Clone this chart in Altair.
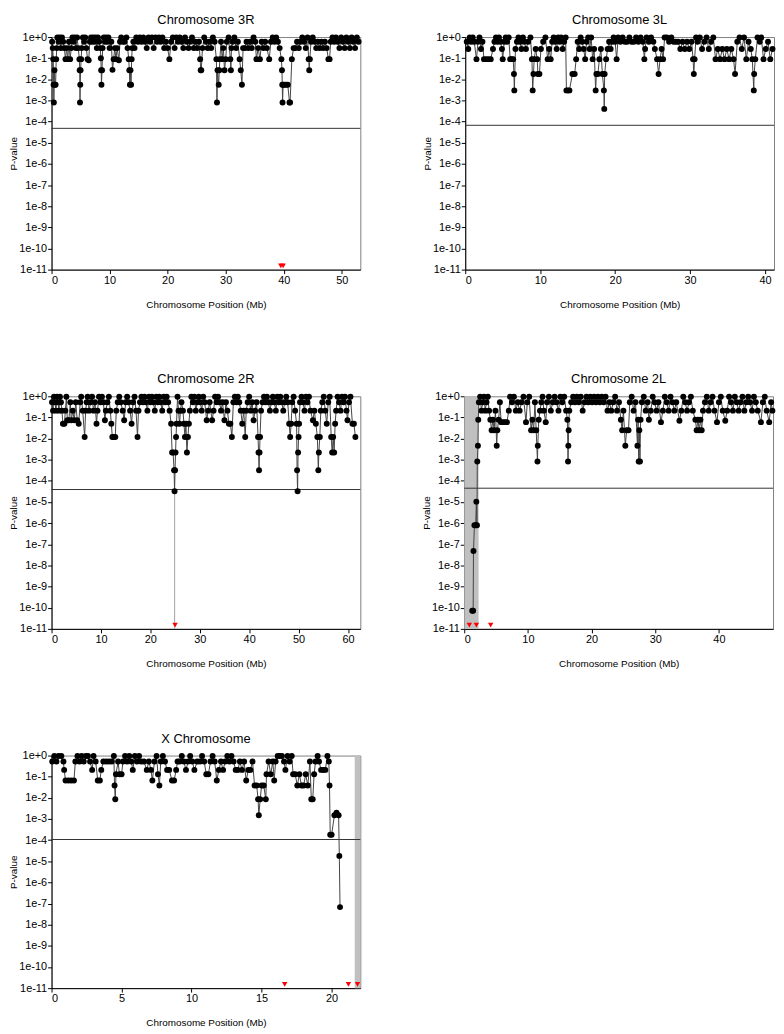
import altair as alt
import pandas as pd

FONT = "Liberation Sans"

# ---------------- data (position in Mb, p-value) ----------------
chr3R = [(0.1,0.6),(0.2,0.3),(0.3,0.09),(0.35,0.0055),(0.4,0.0008),(0.5,0.027),(0.6,0.0055),(0.7,0.0055),(0.8,0.09),(0.9,0.3),
(1.0,0.95),(1.2,0.6),(1.4,0.95),(1.6,0.3),(1.8,0.95),(2.0,0.6),(2.2,0.3),(2.4,0.09),(2.6,0.3),(2.8,0.09),(3.0,0.6),(3.2,0.09),
(3.4,0.3),(3.6,0.95),(3.8,0.6),(4.0,0.95),(4.2,0.3),(4.4,0.95),(4.6,0.3),(4.8,0.09),(4.85,0.027),(4.9,0.0008),(4.95,0.0055),
(5.0,0.027),(5.1,0.09),(5.2,0.3),(5.4,0.95),(5.6,0.6),(5.8,0.95),(6.0,0.3),(6.2,0.09),(6.4,0.08),(6.6,0.6),(6.8,0.95),(7.0,0.6),
(7.2,0.95),(7.4,0.6),(7.6,0.95),(7.8,0.3),(8.0,0.95),(8.2,0.6),(8.4,0.3),(8.5,0.1),(8.55,0.027),(8.6,0.0055),(8.7,0.027),(8.8,0.3),
(9.0,0.95),(9.2,0.6),(9.4,0.95),(9.6,0.6),(9.8,0.95),(10.0,0.3),(10.3,0.6),(10.5,0.028),(10.7,0.09),(10.9,0.3),(11.1,0.09),
(11.3,0.3),(11.6,0.08),(11.8,0.6),(12.0,0.95),(12.3,0.6),(12.6,0.6),(12.9,0.95),(13.1,0.3),(13.3,0.09),(13.4,0.027),(13.5,0.0055),
(13.6,0.027),(13.7,0.0055),(13.8,0.09),(13.9,0.3),(14.1,0.6),(14.3,0.3),(14.6,0.95),(14.9,0.6),(15.2,0.95),(15.5,0.6),(15.8,0.95),
(16.1,0.6),(16.4,0.3),(16.7,0.95),(17.0,0.6),(17.3,0.95),(17.6,0.3),(17.9,0.95),(18.2,0.6),(18.5,0.95),(18.8,0.6),(19.1,0.95),
(19.4,0.3),(19.7,0.6),(20.0,0.3),(20.3,0.09),(20.6,0.6),(20.9,0.95),(21.2,0.3),(21.5,0.95),(21.8,0.6),(22.1,0.95),(22.4,0.6),
(22.7,0.3),(23.0,0.95),(23.3,0.6),(23.6,0.3),(23.9,0.6),(24.2,0.95),(24.5,0.3),(24.8,0.6),(25.1,0.3),(25.4,0.6),(25.6,0.09),
(25.7,0.027),(25.8,0.027),(26.0,0.3),(26.3,0.95),(26.6,0.6),(26.9,0.3),(27.2,0.6),(27.5,0.3),(27.8,0.95),(28.1,0.6),(28.4,0.09),
(28.5,0.0008),(28.6,0.027),(28.8,0.0055),(28.9,0.027),(29.0,0.09),(29.2,0.6),(29.4,0.09),(29.6,0.3),(29.8,0.027),(30.0,0.09),
(30.2,0.6),(30.5,0.95),(30.8,0.09),(30.9,0.027),(31.0,0.3),(31.2,0.6),(31.5,0.95),(31.8,0.3),(32.1,0.6),(32.4,0.09),(32.6,0.027),
(32.8,0.0055),(33.0,0.3),(33.3,0.3),(33.6,0.6),(33.9,0.3),(34.2,0.6),(34.5,0.3),(34.8,0.95),(35.1,0.6),(35.3,0.09),(35.6,0.3),
(35.9,0.09),(36.2,0.6),(36.5,0.3),(36.8,0.6),(37.1,0.3),(37.5,0.09),(37.8,0.6),(38.1,0.95),(38.4,0.6),(38.7,0.95),(39.0,0.6),
(39.3,0.3),(39.6,0.09),(39.7,0.027),(39.75,0.0055),(39.8,0.0008),(39.9,0.0055),(40.1,0.0055),(40.4,0.0055),(40.7,0.0055),
(41.0,0.0008),(41.1,0.0008),(41.4,0.09),(41.7,0.3),(42.0,0.3),(42.3,0.6),(42.6,0.3),(42.9,0.6),(43.2,0.95),(43.5,0.6),(43.8,0.3),
(44.1,0.95),(44.3,0.09),(44.4,0.027),(44.5,0.09),(44.7,0.6),(45.0,0.95),(45.3,0.6),(45.6,0.3),(45.9,0.6),(46.2,0.3),(46.5,0.6),
(46.8,0.3),(47.1,0.6),(47.4,0.3),(47.7,0.09),(47.9,0.09),(48.1,0.6),(48.4,0.95),(48.7,0.6),(49.0,0.95),(49.3,0.6),(49.6,0.3),
(49.9,0.95),(50.2,0.6),(50.5,0.3),(50.8,0.95),(51.1,0.6),(51.4,0.3),(51.7,0.95),(52.0,0.6),(52.3,0.3),(52.6,0.95),(52.9,0.6)]

chr3L = [(0.2,0.6),(0.4,0.27),(0.6,0.95),(0.8,0.6),(1.0,0.95),(1.2,0.6),(1.5,0.09),(1.7,0.6),(1.9,0.95),(2.1,0.27),(2.3,0.6),
(2.5,0.09),(2.8,0.09),(3.1,0.09),(3.4,0.09),(3.7,0.27),(3.9,0.6),(4.1,0.95),(4.3,0.6),(4.5,0.95),(4.7,0.6),(4.9,0.27),(5.0,0.09),
(5.2,0.6),(5.4,0.95),(5.6,0.6),(5.8,0.95),(6.0,0.09),(6.2,0.09),(6.4,0.09),(6.5,0.018),(6.55,0.003),(6.7,0.27),(6.9,0.6),(7.1,0.95),
(7.3,0.6),(7.5,0.27),(7.7,0.95),(7.9,0.6),(8.1,0.27),(8.4,0.6),(8.7,0.95),(8.9,0.09),(9.0,0.003),(9.1,0.018),(9.2,0.09),(9.4,0.27),
(9.6,0.09),(9.7,0.018),(9.9,0.018),(10.1,0.27),(10.4,0.6),(10.7,0.95),(11.0,0.09),(11.2,0.27),(11.4,0.09),(11.6,0.6),(11.8,0.95),
(12.0,0.6),(12.2,0.27),(12.4,0.95),(12.6,0.6),(12.8,0.95),(13.0,0.27),(13.2,0.6),(13.4,0.95),(13.5,0.003),(13.7,0.003),(13.9,0.003),
(14.3,0.018),(14.6,0.018),(14.8,0.09),(15.0,0.6),(15.2,0.27),(15.4,0.95),(15.6,0.6),(15.8,0.27),(16.0,0.09),(16.2,0.6),(16.4,0.95),
(16.6,0.27),(16.8,0.95),(17.0,0.09),(17.2,0.27),(17.4,0.003),(17.5,0.018),(17.7,0.018),(17.9,0.09),(18.1,0.27),(18.3,0.018),
(18.5,0.003),(18.55,0.0004),(18.6,0.018),(18.8,0.09),(19.0,0.27),(19.2,0.6),(19.4,0.27),(19.6,0.6),(19.8,0.95),(20.0,0.6),
(20.2,0.09),(20.4,0.95),(20.7,0.6),(21.0,0.95),(21.3,0.6),(21.6,0.6),(21.9,0.95),(22.2,0.6),(22.5,0.6),(22.8,0.95),(23.1,0.6),
(23.4,0.95),(23.7,0.6),(23.9,0.09),(24.0,0.27),(24.2,0.95),(24.5,0.6),(24.8,0.95),(25.1,0.6),(25.3,0.27),(25.6,0.09),(25.8,0.018),
(26.0,0.09),(26.2,0.27),(26.4,0.09),(26.6,0.95),(26.9,0.95),(27.2,0.6),(27.5,0.95),(27.8,0.6),(28.1,0.6),(28.4,0.6),(28.7,0.27),
(29.0,0.6),(29.3,0.27),(29.6,0.6),(29.9,0.27),(30.2,0.6),(30.4,0.09),(30.5,0.018),(30.6,0.09),(30.8,0.95),(31.0,0.6),(31.3,0.95),
(31.6,0.27),(31.9,0.6),(32.2,0.95),(32.5,0.27),(32.8,0.6),(33.1,0.95),(33.4,0.09),(33.7,0.27),(34.0,0.09),(34.3,0.27),(34.6,0.09),
(34.9,0.27),(35.2,0.09),(35.5,0.27),(35.8,0.09),(36.0,0.018),(36.3,0.6),(36.6,0.95),(36.9,0.27),(37.2,0.95),(37.5,0.09),(37.8,0.6),
(38.1,0.27),(38.3,0.09),(38.5,0.003),(38.55,0.018),(38.7,0.09),(39.0,0.95),(39.3,0.6),(39.5,0.95),(39.8,0.09),(40.1,0.27),(40.4,0.6),
(40.7,0.09),(41.0,0.27)]

chr2R = [(0.1,0.52),(0.3,0.21),(0.5,0.95),(0.7,0.52),(0.9,0.21),(1.1,0.95),(1.3,0.52),(1.5,0.21),(1.7,0.95),(1.9,0.52),(2.1,0.21),
(2.3,0.05),(2.6,0.05),(2.8,0.21),(3.0,0.95),(3.2,0.073),(3.5,0.073),(3.8,0.52),(4.0,0.073),(4.3,0.21),(4.6,0.073),(4.9,0.52),
(5.2,0.073),(5.5,0.05),(5.8,0.52),(6.0,0.95),(6.3,0.21),(6.7,0.012),(6.9,0.21),(7.1,0.52),(7.3,0.95),(7.6,0.21),(7.9,0.52),(8.2,0.95),
(8.5,0.21),(8.8,0.52),(9.1,0.05),(9.3,0.21),(9.6,0.95),(9.9,0.52),(10.2,0.95),(10.5,0.52),(10.8,0.073),(11.0,0.21),(11.3,0.52),
(11.6,0.95),(11.9,0.21),(12.1,0.05),(12.3,0.012),(12.6,0.012),(12.9,0.012),(13.1,0.21),(13.4,0.52),(13.7,0.95),(14.0,0.52),
(14.4,0.21),(14.7,0.073),(15.0,0.52),(15.3,0.95),(15.6,0.52),(15.9,0.21),(16.2,0.05),(16.5,0.52),(16.8,0.95),(17.1,0.21),(17.4,0.012),
(17.6,0.21),(17.9,0.52),(18.2,0.95),(18.5,0.52),(18.8,0.95),(19.1,0.52),(19.4,0.21),(19.7,0.95),(20.0,0.52),(20.3,0.95),(20.6,0.52),
(20.9,0.21),(21.2,0.95),(21.5,0.52),(21.8,0.95),(22.1,0.52),(22.4,0.21),(22.7,0.95),(23.0,0.52),(23.3,0.95),(23.6,0.52),(23.9,0.21),
(24.2,0.05),(24.4,0.0022),(24.6,0.0022),(24.8,0.00032),(24.9,3.2e-5),(25.0,0.00032),(25.1,0.0022),(25.2,0.012),(25.3,0.05),
(25.5,0.95),(25.7,0.21),(25.9,0.05),(26.1,0.21),(26.3,0.52),(26.6,0.21),(26.8,0.05),(27.0,0.012),(27.2,0.05),(27.4,0.0022),
(27.6,0.012),(27.8,0.05),(28.0,0.21),(28.3,0.95),(28.6,0.52),(28.9,0.95),(29.2,0.21),(29.5,0.52),(29.8,0.95),(30.1,0.52),(30.4,0.21),
(30.7,0.95),(31.0,0.52),(31.4,0.073),(31.7,0.21),(32.0,0.52),(32.5,0.073),(32.8,0.21),(33.1,0.95),(33.4,0.52),(33.7,0.95),(34.0,0.52),
(34.3,0.21),(34.6,0.52),(35.0,0.073),(35.3,0.52),(35.6,0.21),(35.9,0.05),(36.2,0.05),(36.5,0.012),(36.8,0.52),(37.1,0.95),(37.4,0.52),
(37.7,0.95),(38.0,0.52),(38.3,0.21),(38.6,0.05),(38.9,0.21),(39.2,0.012),(39.4,0.21),(39.7,0.52),(40.0,0.95),(40.3,0.21),(40.6,0.52),
(40.9,0.073),(41.2,0.21),(41.5,0.52),(41.8,0.012),(41.9,0.0022),(42.0,0.00032),(42.1,0.0022),(42.2,0.012),(42.4,0.21),(42.7,0.52),
(43.0,0.95),(43.3,0.52),(43.6,0.95),(43.9,0.52),(44.2,0.21),(44.5,0.52),(44.8,0.95),(45.1,0.52),(45.4,0.21),(45.7,0.95),(46.0,0.52),
(46.3,0.95),(46.6,0.52),(46.9,0.21),(47.2,0.52),(47.5,0.95),(47.8,0.52),(48.1,0.05),(48.3,0.012),(48.5,0.05),(48.7,0.52),(49.0,0.95),
(49.3,0.21),(49.6,0.05),(49.7,0.00032),(49.8,3.2e-5),(49.9,0.0022),(50.0,0.012),(50.1,0.05),(50.3,0.52),(50.6,0.95),(50.9,0.52),
(51.2,0.21),(51.5,0.95),(51.8,0.52),(52.1,0.95),(52.4,0.21),(52.9,0.073),(53.2,0.21),(53.5,0.05),(53.8,0.012),(54.0,0.00032),
(54.1,0.0022),(54.3,0.012),(54.5,0.21),(54.8,0.52),(55.1,0.95),(55.4,0.21),(55.7,0.05),(56.0,0.52),(56.3,0.95),(56.6,0.012),
(56.8,0.0022),(57.0,0.012),(57.2,0.0022),(57.4,0.05),(57.6,0.21),(57.9,0.95),(58.2,0.52),(58.5,0.21),(58.8,0.95),(59.1,0.52),
(59.4,0.95),(59.7,0.21),(59.9,0.073),(60.2,0.52),(60.5,0.95),(60.9,0.05),(61.2,0.05),(61.5,0.012)]

chr2L = [(1.25,7.2e-11),(1.4,7.2e-11),(1.45,4.8e-8),(1.6,8e-7),(1.8,8e-7),(1.9,1.04e-5),(2.0,8e-7),(2.05,0.00083),(2.15,0.0046),
(2.2,0.078),(2.3,0.52),(2.5,0.95),(2.7,0.21),(2.9,0.52),(3.1,0.95),(3.3,0.21),(3.5,0.52),(3.7,0.95),(3.9,0.21),(4.1,0.078),
(4.3,0.025),(4.5,0.078),(4.7,0.025),(4.9,0.21),(5.1,0.0046),(5.2,0.025),(5.4,0.078),(5.6,0.52),(5.8,0.06),(6.1,0.06),(6.4,0.06),
(6.7,0.06),(7.0,0.21),(7.2,0.95),(7.5,0.52),(7.8,0.95),(8.1,0.21),(8.4,0.52),(8.7,0.21),(9.0,0.52),(9.3,0.95),(9.7,0.06),(9.9,0.52),
(10.2,0.95),(10.5,0.025),(10.7,0.078),(10.9,0.025),(11.1,0.52),(11.3,0.025),(11.5,0.00083),(11.55,0.0046),(11.7,0.078),(11.9,0.21),
(12.1,0.52),(12.3,0.95),(12.5,0.21),(12.8,0.06),(13.0,0.52),(13.3,0.95),(13.6,0.21),(13.9,0.52),(14.2,0.95),(14.5,0.52),(14.8,0.21),
(15.1,0.95),(15.4,0.52),(15.7,0.95),(16.0,0.21),(16.2,0.078),(16.3,0.00083),(16.35,0.0046),(16.4,0.025),(16.5,0.21),(16.8,0.52),
(17.1,0.95),(17.4,0.52),(17.7,0.95),(18.0,0.52),(18.3,0.95),(18.6,0.21),(18.9,0.52),(19.2,0.95),(19.5,0.52),(19.8,0.95),(20.1,0.52),
(20.4,0.95),(20.7,0.52),(21.0,0.95),(21.3,0.52),(21.6,0.95),(21.9,0.52),(22.2,0.95),(22.5,0.21),(22.8,0.52),(23.1,0.21),(23.4,0.52),
(23.7,0.95),(24.0,0.21),(24.3,0.52),(24.6,0.078),(24.8,0.025),(25.0,0.21),(25.3,0.0046),(25.5,0.025),(25.8,0.025),(26.0,0.52),
(26.3,0.95),(26.6,0.21),(26.9,0.52),(27.2,0.0046),(27.3,0.078),(27.4,0.00083),(27.5,0.025),(27.6,0.00083),(27.7,0.078),(27.9,0.52),
(28.2,0.95),(28.5,0.21),(28.8,0.52),(29.0,0.078),(29.3,0.21),(29.6,0.95),(29.9,0.52),(30.2,0.21),(30.5,0.52),(30.9,0.06),(31.2,0.21),
(31.5,0.95),(31.8,0.52),(32.1,0.21),(32.4,0.95),(32.7,0.52),(33.0,0.21),(33.3,0.52),(33.8,0.07),(34.1,0.21),(34.4,0.95),(34.7,0.52),
(35.0,0.21),(35.3,0.52),(35.6,0.95),(35.9,0.21),(36.3,0.078),(36.5,0.025),(36.7,0.078),(36.9,0.025),(37.1,0.078),(37.3,0.025),
(37.5,0.21),(37.8,0.52),(38.1,0.95),(38.4,0.21),(38.7,0.52),(39.0,0.95),(39.3,0.21),(39.7,0.06),(40.0,0.52),(40.3,0.95),(40.6,0.21),
(41.0,0.07),(41.3,0.21),(41.6,0.95),(41.9,0.52),(42.2,0.21),(42.5,0.95),(42.8,0.52),(43.1,0.21),(43.4,0.52),(43.7,0.95),(44.0,0.21),
(44.3,0.52),(44.6,0.95),(44.9,0.52),(45.2,0.21),(45.5,0.95),(45.8,0.52),(46.1,0.21),(46.6,0.06),(46.9,0.52),(47.2,0.95),(47.5,0.21),
(47.9,0.06),(48.2,0.52),(48.4,0.21)]

chrX = [(0.05,0.52),(0.2,0.95),(0.35,0.52),(0.5,0.95),(0.7,0.95),(0.85,0.52),(0.9,0.21),(1.0,0.066),(1.2,0.066),(1.4,0.066),
(1.6,0.066),(1.7,0.52),(1.85,0.95),(2.0,0.52),(2.15,0.95),(2.3,0.52),(2.45,0.95),(2.6,0.95),(2.75,0.52),(2.9,0.21),(3.0,0.95),
(3.15,0.52),(3.3,0.066),(3.45,0.066),(3.55,0.21),(3.7,0.52),(3.9,0.52),(4.1,0.52),(4.3,0.52),(4.45,0.95),(4.5,0.038),(4.55,0.0085),
(4.6,0.13),(4.75,0.52),(4.85,0.13),(5.0,0.13),(5.1,0.52),(5.25,0.95),(5.4,0.52),(5.55,0.95),(5.7,0.52),(5.8,0.21),(5.95,0.95),
(6.1,0.52),(6.25,0.95),(6.4,0.52),(6.6,0.52),(6.8,0.21),(6.95,0.52),(7.1,0.21),(7.2,0.066),(7.35,0.52),(7.5,0.95),(7.6,0.13),
(7.7,0.038),(7.8,0.52),(7.95,0.95),(8.1,0.52),(8.25,0.21),(8.4,0.21),(8.6,0.066),(8.75,0.066),(8.9,0.21),(9.0,0.52),(9.15,0.52),
(9.3,0.95),(9.45,0.52),(9.6,0.21),(9.75,0.52),(9.9,0.95),(10.05,0.52),(10.2,0.21),(10.4,0.52),(10.6,0.52),(10.75,0.95),(10.9,0.52),
(11.05,0.13),(11.2,0.13),(11.35,0.52),(11.5,0.95),(11.65,0.52),(11.8,0.066),(11.95,0.21),(12.1,0.52),(12.25,0.21),(12.4,0.52),
(12.55,0.95),(12.7,0.52),(12.85,0.95),(13.0,0.52),(13.15,0.21),(13.3,0.21),(13.45,0.52),(13.6,0.21),(13.75,0.52),(13.9,0.066),
(14.05,0.21),(14.2,0.21),(14.35,0.52),(14.5,0.038),(14.65,0.038),(14.75,0.0085),(14.8,0.0015),(14.9,0.0085),(15.0,0.038),
(15.15,0.038),(15.3,0.0085),(15.35,0.13),(15.5,0.52),(15.65,0.13),(15.8,0.52),(15.9,0.066),(16.0,0.52),(16.15,0.95),(16.3,0.95),
(16.45,0.95),(16.6,0.52),(16.7,0.21),(16.85,0.95),(17.0,0.52),(17.15,0.95),(17.25,0.13),(17.4,0.13),(17.55,0.038),(17.7,0.13),
(17.85,0.038),(18.0,0.038),(18.15,0.13),(18.3,0.038),(18.45,0.52),(18.55,0.0085),(18.65,0.0085),(18.75,0.13),(18.85,0.52),
(19.0,0.95),(19.1,0.52),(19.25,0.21),(19.4,0.21),(19.55,0.21),(19.7,0.95),(19.8,0.52),(19.85,0.038),(19.9,1.8e-4),(20.0,1.8e-4),
(20.2,0.0015),(20.35,0.002),(20.5,0.0015),(20.55,1.8e-5),(20.6,6.8e-8)]

# red markers along the bottom
tri_3R = [39.5, 39.9]
tri_3L = []
tri_2R = [25.0]
tri_2L = [0.8, 1.9, 4.15]
tri_X = [16.65, 21.2, 21.85]

# significance thresholds
thr = {"3R": 4.8e-5, "3L": 6.7e-5, "2R": 3.9e-5, "2L": 4.5e-5, "X": 1.07e-4}
# shaded regions (start, end in Mb)
band_2L = (0.0, 2.25)
band_X = (21.65, 22.05)
# vertical connector in 2R
drop_2R = (24.9, 3.2e-5, 1e-11)

x_max = {"3R": 53.2, "3L": 41.2, "2R": 62.5, "2L": 48.5, "X": 22.05}
x_ticks = {"3R": [0, 10, 20, 30, 40, 50], "3L": [0, 10, 20, 30, 40],
           "2R": [0, 10, 20, 30, 40, 50, 60], "2L": [0, 10, 20, 30, 40],
           "X": [0, 5, 10, 15, 20]}
y_ticks = [1, 1e-1, 1e-2, 1e-3, 1e-4, 1e-5, 1e-6, 1e-7, 1e-8, 1e-9, 1e-10, 1e-11]
TRI_Y = 1.5e-11

W, H = 312, 235


def panel(title, key, pts, tri, band=None, drop=None):
    xsc = alt.Scale(domain=[0, x_max[key]], nice=False, zero=True)
    ysc = alt.Scale(type="log", domain=[1e-11, 1], nice=False)
    xax = alt.Axis(values=x_ticks[key], title="Chromosome Position (Mb)")
    yax = alt.Axis(values=y_ticks, format=".0e", title="P-value")
    X = alt.X("pos:Q", scale=xsc, axis=xax)
    Y = alt.Y("p:Q", scale=ysc, axis=yax)

    df = pd.DataFrame(pts, columns=["pos", "p"])
    layers = []
    if band is not None:
        bdf = pd.DataFrame({"pos": [band[0]], "pos2": [band[1]]})
        layers.append(alt.Chart(bdf).mark_rect(color="#c0c0c0").encode(
            x=X, x2="pos2:Q", y=alt.value(0), y2=alt.value(H)))
    tdf = pd.DataFrame({"p": [thr[key]]})
    layers.append(alt.Chart(tdf).mark_rule(color="#333333", strokeWidth=1).encode(y=Y))
    if drop is not None:
        ddf = pd.DataFrame({"pos": [drop[0]], "p": [drop[1]], "p2": [drop[2]]})
        layers.append(alt.Chart(ddf).mark_rule(color="#b0b0b0", strokeWidth=1.2).encode(
            x=X, y=Y, y2="p2:Q"))
    layers.append(alt.Chart(df).mark_line(color="#444444", strokeWidth=1).encode(x=X, y=Y))
    layers.append(alt.Chart(df).mark_circle(color="black", size=36, opacity=1).encode(x=X, y=Y))
    if tri:
        rdf = pd.DataFrame({"pos": tri, "p": [TRI_Y] * len(tri)})
        layers.append(alt.Chart(rdf).mark_point(shape="triangle-down", filled=True, color="#ff0000",
                                                size=30, opacity=1).encode(x=X, y=Y))
    return alt.layer(*layers).properties(
        width=W, height=H,
        title=alt.TitleParams(title, fontSize=13, font=FONT, fontWeight="normal", offset=4,
                              frame="group", color="black"))


p3R = panel("Chromosome 3R", "3R", chr3R, tri_3R)
p3L = panel("Chromosome 3L", "3L", chr3L, tri_3L)
p2R = panel("Chromosome 2R", "2R", chr2R, tri_2R, drop=drop_2R)
p2L = panel("Chromosome 2L", "2L", chr2L, tri_2L, band=band_2L)
pX = panel("X Chromosome", "X", chrX, tri_X, band=band_X)

chart = alt.vconcat(
    alt.hconcat(p3R, p3L, spacing=60),
    alt.hconcat(p2R, p2L, spacing=60),
    pX,
    spacing=63,
).properties(padding=0).configure_view(
    stroke="#808080", strokeWidth=1
).configure_axis(
    labelFont=FONT, titleFont=FONT, labelFontSize=11, titleFontSize=10,
    labelColor="black", titleColor="black", domainColor="black", tickColor="black",
    grid=False, titleFontWeight="normal", tickSize=4
).configure_axisY(
    titlePadding=0, labelPadding=1
).configure_axisX(
    titlePadding=14, labelPadding=1
)

chart.save("out.html", embed_options={"renderer": "svg", "actions": False})
